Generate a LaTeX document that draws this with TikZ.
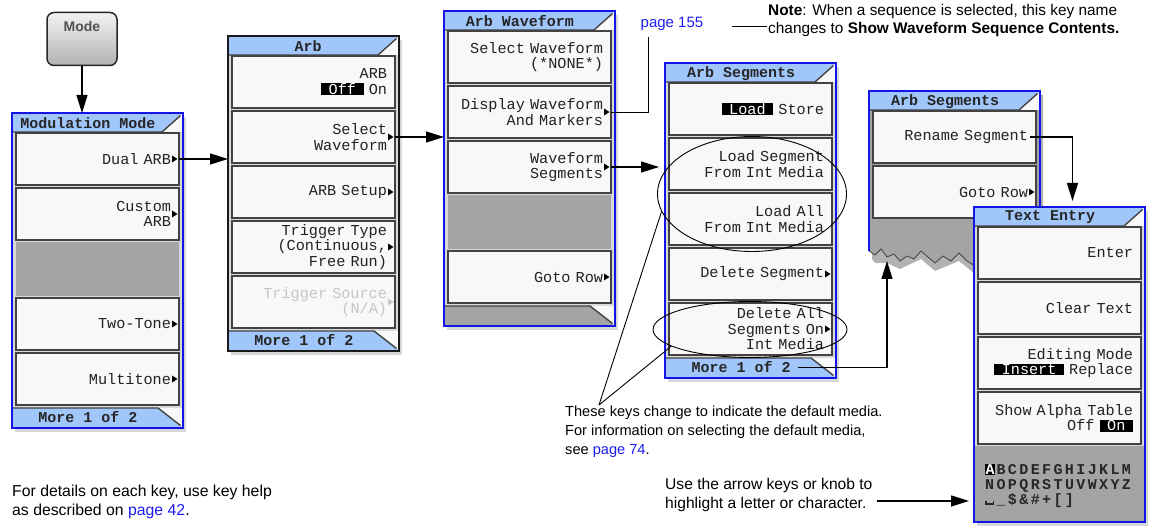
\documentclass[tikz,border=0pt]{standalone}
\usepackage{fontspec}
\setsansfont{Liberation Sans}
\setmonofont{Liberation Mono}
\usetikzlibrary{calc,shapes.geometric,positioning,arrows.meta,shadows}
\definecolor{esgblue}{RGB}{20,20,232}
\definecolor{esgtab}{RGB}{160,198,250}
\definecolor{esgkey}{RGB}{248,248,248}
\definecolor{esgedge}{RGB}{66,66,66}
\definecolor{esggray}{RGB}{164,164,164}
\definecolor{esgtext}{RGB}{34,34,34}
\definecolor{esglink}{RGB}{28,28,240}
\newcommand{\sel}[1]{{\setlength{\fboxsep}{0.6pt}\colorbox{black}{\textcolor{white}{\hspace*{7pt}#1\hspace*{7pt}}}}}
\newcommand{\chr}[1]{\makebox[11.4pt][l]{#1}}

\begin{document}
\begin{tikzpicture}[x=1pt,y=-1pt,
  panel/.style={draw=esgblue,line width=2.4pt,fill=gray!30,anchor=north west,inner sep=0pt,outer sep=0pt,
    minimum width=171pt,minimum height=315pt,drop shadow={shadow xshift=3pt,shadow yshift=-4pt,opacity=0.3}},
  softkey/.style={draw=esgedge,fill=esgkey,line width=1.2pt,anchor=north west,inner xsep=8pt,inner ysep=0pt,outer sep=0pt,
    minimum width=163pt,minimum height=52pt,text width=147pt,align=right,text=esgtext,font=\ttfamily\fontsize{15.2}{15.5}\selectfont},
  blankkey/.style={fill=esggray,anchor=north west,inner sep=0pt,outer sep=0pt,minimum width=163pt,minimum height=54pt},
  submenu/.style={path picture={\fill[#1] ([xshift=-7pt,yshift=3.5pt]path picture bounding box.east) -- ++(5.5pt,-3.5pt) -- ++(-5.5pt,-3.5pt) -- cycle;}},
  submenu/.default=black,
  tabedge/.style={draw=esgedge,line width=1.4pt},
  tabtext/.style={font=\ttfamily\bfseries\fontsize{15}{15}\selectfont,text=black!85,inner sep=0pt},
  modekey/.style={rounded corners=7pt,draw=gray!30!black,line width=1.5pt,top color=gray!10,bottom color=gray!60,
    minimum width=70pt,minimum height=53pt,inner sep=0pt,
    label={[anchor=north,yshift=-6pt,font=\sffamily\bfseries\fontsize{14}{14}\selectfont,text=gray!65!black]90:Mode}},
  conn/.style={line width=1.3pt,-{Triangle[length=18pt,width=11pt]}},
  callout/.style={line width=0.9pt},
  ring/.style={ellipse,draw,line width=0.9pt,inner sep=0pt},
  note/.style={font=\sffamily\fontsize{15}{19}\selectfont,align=left,anchor=north west,inner sep=0pt}]

\fill[white] (0,0) rectangle (1153,526);
\useasboundingbox (0,0) rectangle (1153,526);

% ================= MODE KEY =================
\node[modekey] (mode) at (82,39) {};

% ================= MODULATION MODE =================
\begin{scope}[shift={(12,113)}]
  \node[panel] (modpanel) at (0,0) {};
  \fill[esgtab] (1.2,1.2) -- (169.8,1.2) -- (150,19) -- (1.2,19) -- cycle;
  \fill[esgkey] (150,19) -- (169.8,1.2) -- (169.8,19) -- cycle;
  \draw[tabedge] (1.2,19) -- (150,19) -- (168.5,2.5);
  \node[tabtext] (modtitle) at (76,10.5) {Modulation Mode};
  \node[softkey,submenu] (dualarb) at (4,20) {Dual ARB};
  \node[softkey,submenu] (customarb) at (4,75) {Custom\\ARB};
  \node[blankkey] (modblank) at (4,129) {};
  \node[softkey,submenu] (twotone) at (4,185) {Two-Tone};
  \node[softkey,submenu] (multitone) at (4,240) {Multitone};
  \fill[esgtab] (1.2,295) -- (146,295) -- (169.8,313.8) -- (1.2,313.8) -- cycle;
  \fill[esgkey] (146,295) -- (169.8,295) -- (169.8,313.8) -- cycle;
  \draw[tabedge] (1.2,295) -- (146,295) -- (168.5,312.5);
  \node[tabtext] (modmore) at (76,304.5) {More 1 of 2};
\end{scope}

% ================= ARB =================
\begin{scope}[shift={(228,36)}]
  \node[panel,draw=gray!20!black] (arbpanel) at (0,0) {};
  \fill[esgtab] (1.2,1.2) -- (169.8,1.2) -- (150,19) -- (1.2,19) -- cycle;
  \fill[esgkey] (150,19) -- (169.8,1.2) -- (169.8,19) -- cycle;
  \draw[tabedge] (1.2,19) -- (150,19) -- (168.5,2.5);
  \node[tabtext] (arbtitle) at (80,10.5) {Arb};
  \node[softkey] (arbonoff) at (4,20) {ARB\\\sel{Off} On};
  \node[softkey,submenu] (selwave) at (4,75) {Select\\Waveform};
  \node[softkey,submenu] (arbsetup) at (4,130) {ARB Setup};
  \node[softkey,submenu] (trigtype) at (4,185) {Trigger Type\\(Continuous,\\Free Run)};
  \node[softkey,submenu=gray!45,text=gray!45] (trigsrc) at (4,240) {Trigger Source\\(N/A)};
  \fill[esgtab] (1.2,295) -- (146,295) -- (169.8,313.8) -- (1.2,313.8) -- cycle;
  \fill[esgkey] (146,295) -- (169.8,295) -- (169.8,313.8) -- cycle;
  \draw[tabedge] (1.2,295) -- (146,295) -- (168.5,312.5);
  \node[tabtext] (arbmore) at (76,304.5) {More 1 of 2};
\end{scope}

% ================= ARB WAVEFORM =================
\begin{scope}[shift={(444,11)}]
  \node[panel] (wavepanel) at (0,0) {};
  \fill[esgtab] (1.2,1.2) -- (169.8,1.2) -- (150,19) -- (1.2,19) -- cycle;
  \fill[esgkey] (150,19) -- (169.8,1.2) -- (169.8,19) -- cycle;
  \draw[tabedge] (1.2,19) -- (150,19) -- (168.5,2.5);
  \node[tabtext] (wavetitle) at (76,10.5) {Arb Waveform};
  \node[softkey] (selnone) at (4,20) {Select Waveform\\(*NONE*)};
  \node[softkey,submenu] (dispwave) at (4,75) {Display Waveform\\And Markers};
  \node[softkey,submenu] (wavesegs) at (4,130) {Waveform\\Segments};
  \node[blankkey] (waveblank) at (4,184) {};
  \node[softkey,submenu] (gotorow) at (4,240) {Goto Row};
  \fill[esggray] (1.2,295) -- (146,295) -- (169.8,313.8) -- (1.2,313.8) -- cycle;
  \fill[esgkey] (146,295) -- (169.8,295) -- (169.8,313.8) -- cycle;
  \draw[tabedge] (1.2,295) -- (146,295) -- (168.5,312.5);
\end{scope}

% ================= ARB SEGMENTS =================
\begin{scope}[shift={(665,63)}]
  \node[panel] (segpanel) at (0,0) {};
  \fill[esgtab] (1.2,1.2) -- (169.8,1.2) -- (150,19) -- (1.2,19) -- cycle;
  \fill[esgkey] (150,19) -- (169.8,1.2) -- (169.8,19) -- cycle;
  \draw[tabedge] (1.2,19) -- (150,19) -- (168.5,2.5);
  \node[tabtext] (segtitle) at (76,10.5) {Arb Segments};
  \node[softkey] (loadstore) at (4,20) {\sel{Load} Store};
  \node[softkey] (loadseg) at (4,75) {Load Segment\\From Int Media};
  \node[softkey] (loadall) at (4,130) {Load All\\From Int Media};
  \node[softkey,submenu] (delseg) at (4,185) {Delete Segment};
  \node[softkey,submenu] (delall) at (4,240) {Delete All\\Segments On\\Int Media};
  \fill[esgtab] (1.2,295) -- (146,295) -- (169.8,313.8) -- (1.2,313.8) -- cycle;
  \fill[esgkey] (146,295) -- (169.8,295) -- (169.8,313.8) -- cycle;
  \draw[tabedge] (1.2,295) -- (146,295) -- (168.5,312.5);
  \node[tabtext] (segmore) at (76,304.5) {More 1 of 2};
\end{scope}
\node[ring,minimum width=189pt,minimum height=115pt] (ring1) at (752,194) {};
\node[ring,minimum width=194pt,minimum height=56pt] (ring2) at (750,329.5) {};

% ================= ARB SEGMENTS (torn) =================
\begin{scope}[shift={(869,91)}]
  \fill[black,opacity=0.3] (3,4) -- (174,4) -- (174,182) -- (106,183) -- (90,170) -- (66,180) -- (52,168) -- (31,178) -- (18,172) -- (6,172) -- (3,168) -- cycle;
  \fill[esggray] (0,0) -- (171,0) -- (171,176) -- (106,175) -- (98,170) -- (90,162) -- (82,170) -- (74,165) -- (66,172) -- (60,167)
     -- (52,160) -- (45,168) -- (38,165) -- (31,170) -- (25,163) -- (18,166) -- (12,158) -- (6,164) -- (0,160) -- cycle;
  \draw[esgedge,line width=0.8pt] (171,176) -- (106,175) -- (98,170) -- (90,162) -- (82,170) -- (74,165) -- (66,172) -- (60,167)
     -- (52,160) -- (45,168) -- (38,165) -- (31,170) -- (25,163) -- (18,166) -- (12,158) -- (6,164) -- (0,160);
  \draw[esgblue,line width=2.4pt] (0,160) -- (0,0) -- (171,0) -- (171,176);
  \fill[esgtab] (1.2,1.2) -- (169.8,1.2) -- (150,19) -- (1.2,19) -- cycle;
  \fill[esgkey] (150,19) -- (169.8,1.2) -- (169.8,19) -- cycle;
  \draw[tabedge] (1.2,19) -- (150,19) -- (168.5,2.5);
  \node[tabtext] (segtitle2) at (76,10.5) {Arb Segments};
  \node[softkey] (rename) at (4,20) {Rename Segment};
  \node[softkey,submenu] (gotorow2) at (4,75) {Goto Row};
  \coordinate (tear) at (18,170);
\end{scope}

% ================= TEXT ENTRY =================
\begin{scope}[shift={(974,207)}]
  \node[panel] (entrypanel) at (0,0) {};
  \fill[esgtab] (1.2,1.2) -- (169.8,1.2) -- (150,19) -- (1.2,19) -- cycle;
  \fill[esgkey] (150,19) -- (169.8,1.2) -- (169.8,19) -- cycle;
  \draw[tabedge] (1.2,19) -- (150,19) -- (168.5,2.5);
  \node[tabtext] (entrytitle) at (76,10.5) {Text Entry};
  \node[softkey] (enter) at (4,20) {Enter};
  \node[softkey] (cleartext) at (4,75) {Clear Text};
  \node[softkey] (editmode) at (4,130) {Editing Mode\\\sel{Insert} Replace};
  \node[softkey] (alphatable) at (4,185) {Show Alpha Table\\Off \sel{On}};
  \fill[esggray] (1.2,239) rectangle (169.8,313.8);
  \node[anchor=north west,inner sep=0pt,align=left,text=black!85,font=\ttfamily\bfseries\fontsize{15}{15}\selectfont] (alpha) at (11,257)
    {\chr{{\setlength{\fboxsep}{0.5pt}\colorbox{black}{\textcolor{white}{A}}}}\chr{B}\chr{C}\chr{D}\chr{E}\chr{F}\chr{G}\chr{H}\chr{I}\chr{J}\chr{K}\chr{L}\chr{M}\\
     \chr{N}\chr{O}\chr{P}\chr{Q}\chr{R}\chr{S}\chr{T}\chr{U}\chr{V}\chr{W}\chr{X}\chr{Y}\chr{Z}\\
     \chr{\rule{1.3pt}{3.5pt}\rule{6.5pt}{1.4pt}\rule{1.3pt}{3.5pt}}\chr{\_}\chr{\$}\chr{\&}\chr{\#}\chr{+}\chr{[}\chr{]}};
\end{scope}

% ================= TEXTS =================
\node[note,font=\sffamily\fontsize{15.4}{18}\selectfont] (note) at (768,4) {\textbf{Note}: When a sequence is selected, this key name\\changes to \textbf{Show Waveform Sequence Contents.}};
\node[note,anchor=center,text=esglink] (p155) at (672,24) {page 155};
\node[note,font=\sffamily\fontsize{14.6}{19}\selectfont] (media) at (565,406) {These keys change to indicate the default media.\\For information on selecting the default media,\\see \textcolor{esglink}{page 74}.};
\node[note,font=\sffamily\fontsize{15.6}{19}\selectfont] (usekeys) at (665,478) {Use the arrow keys or knob to\\highlight a letter or character.};
\node[note,font=\sffamily\fontsize{15.8}{19}\selectfont] (details) at (12,485) {For details on each key, use key help\\as described on \textcolor{esglink}{page 42}.};

% ================= CONNECTORS =================
\draw[conn] (mode.south) -- (mode.south |- modpanel.north);
\draw[conn] (dualarb.east) -- (dualarb.east -| arbpanel.west);
\draw[conn] (selwave.east) -- (selwave.east -| wavepanel.west);
\draw[conn] (wavesegs.east) -- ($(wavesegs.east -| segpanel.west)+(-6,0)$);
\draw[conn] ($(segmore.east)+(7,0)$) -| (tear);
\draw[conn] ($(rename.east)+(-6,0)$) -| ($(entrypanel.north)+(13,-6)$);
\draw[conn] ($(usekeys.east)+(4,6)$) -- ($(usekeys.east -| entrypanel.west)+(-5,6)$);
\draw[callout] (dispwave.east) -| ($(p155.south)+(-24,6)$);
\draw[callout] ($(note.west)+(-1,6)$) -- ++(-35,0);
\coordinate (mediaapex) at ($(media.north west)+(34,-1)$);
\draw[callout] (mediaapex) -- (ring1.191);
\draw[callout] (mediaapex) -- (ring2.192);
\end{tikzpicture}
\end{document}
